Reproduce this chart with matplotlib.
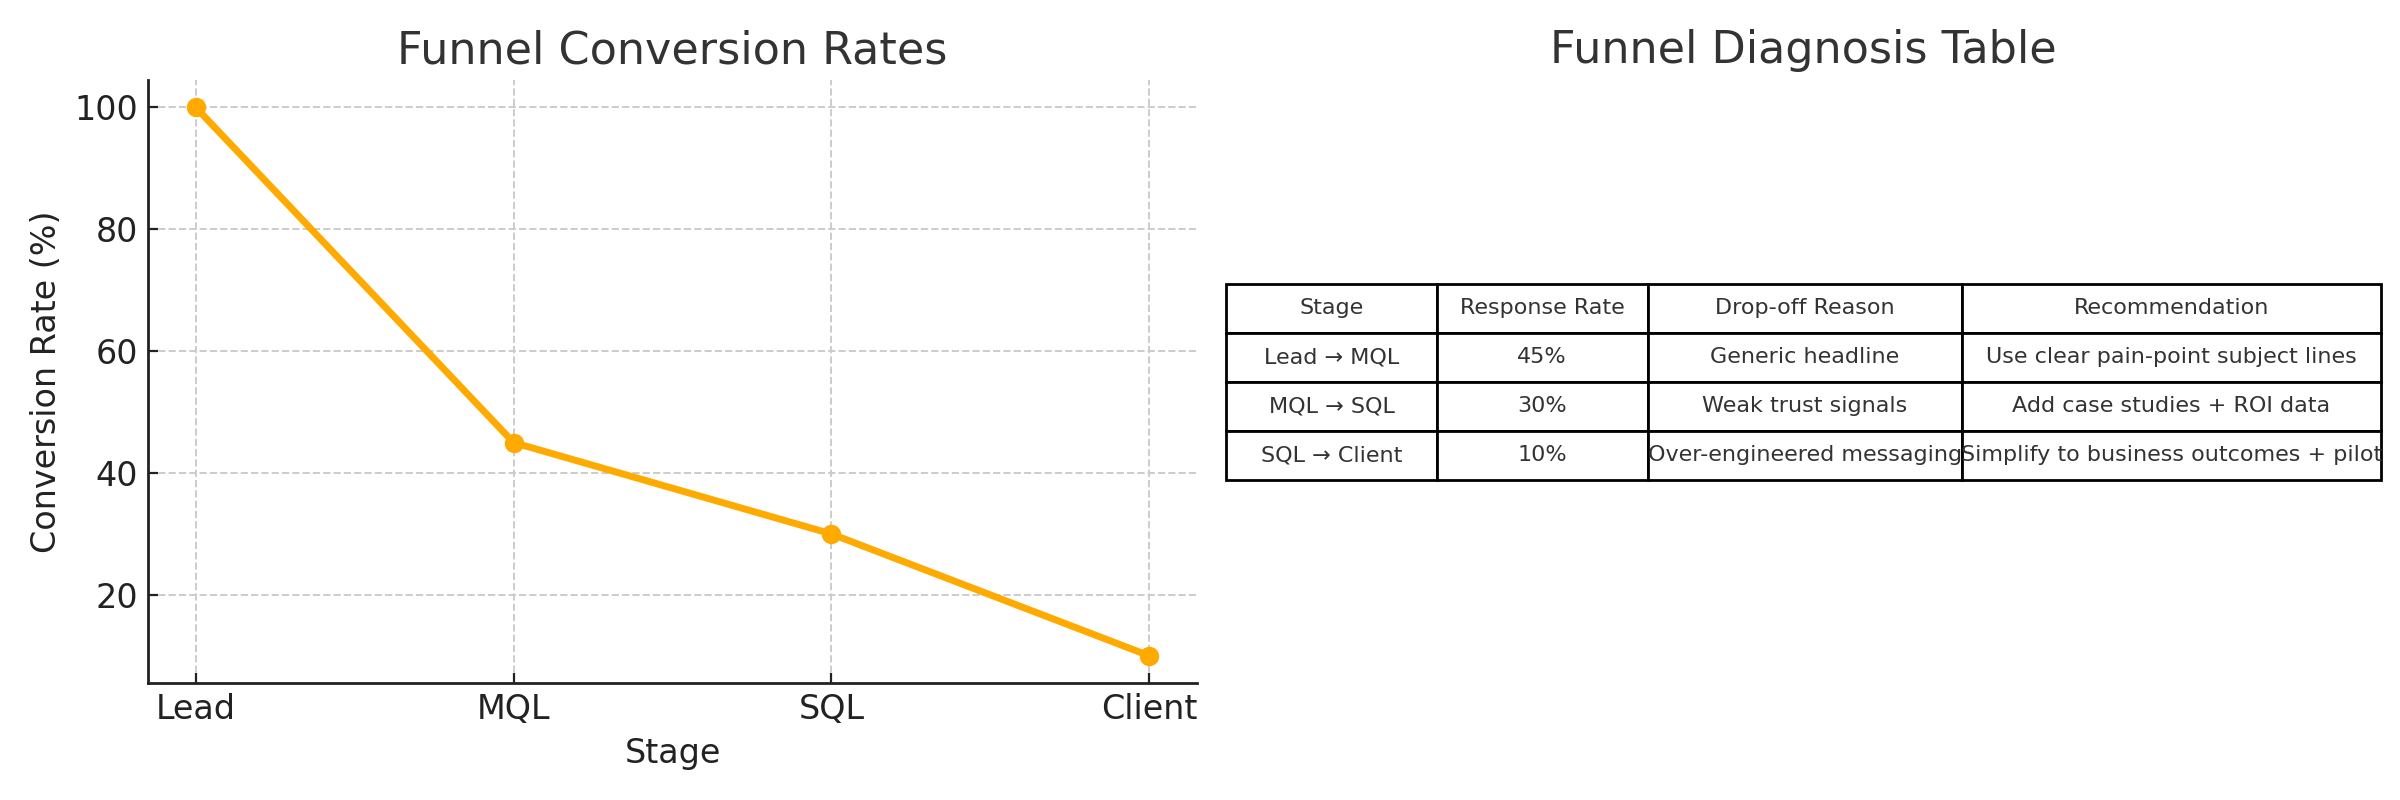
import matplotlib.pyplot as plt

stages = ["Lead", "MQL", "SQL", "Client"]
conversion = [100, 45, 30, 10]

col_labels = ["Stage", "Response Rate", "Drop-off Reason", "Recommendation"]
table_stages = ["Lead → MQL", "MQL → SQL", "SQL → Client"]
response_rates = ["45%", "30%", "10%"]
reasons = ["Generic headline", "Weak trust signals", "Over-engineered messaging"]
recommendations = ["Use clear pain-point subject lines",
                   "Add case studies + ROI data",
                   "Simplify to business outcomes + pilot"]

fig = plt.figure(figsize=(12, 4), dpi=200)

# left: line chart
ax = fig.add_axes([0.0617, 0.146, 0.437, 0.754])
ax.plot(stages, conversion, marker="o", color="#ffaa00", linewidth=2.5, markersize=6, zorder=3)
ax.set_title("Funnel Conversion Rates", fontsize=16, color="#333333")
ax.set_xlabel("Stage", fontsize=12, color="#222222")
ax.set_ylabel("Conversion Rate (%)", fontsize=12, color="#222222")
ax.tick_params(labelsize=12, direction="in", length=3.5, colors="#222222")
ax.grid(True, linestyle="--", color="#cccccc", linewidth=0.7)
ax.spines["top"].set_visible(False)
ax.spines["right"].set_visible(False)
for s in ["left", "bottom"]:
    ax.spines[s].set_color("#222222")
    ax.spines[s].set_linewidth(1.0)

# right: table
ax2 = fig.add_axes([0.511, 0.146, 0.481, 0.754])
ax2.axis("off")
ax2.set_title("Funnel Diagnosis Table", fontsize=16, color="#333333")
rows = [list(r) for r in zip(table_stages, response_rates, reasons, recommendations)]
tbl = ax2.table(cellText=rows, colLabels=col_labels, cellLoc="center",
                colWidths=[0.182, 0.183, 0.272, 0.363],
                bbox=[0, 0.337, 1, 0.325])
tbl.auto_set_font_size(False)
tbl.set_fontsize(8)
for cell in tbl.get_celld().values():
    cell.get_text().set_color("#333333")
    cell.set_edgecolor("black")

fig.savefig("out.png")
